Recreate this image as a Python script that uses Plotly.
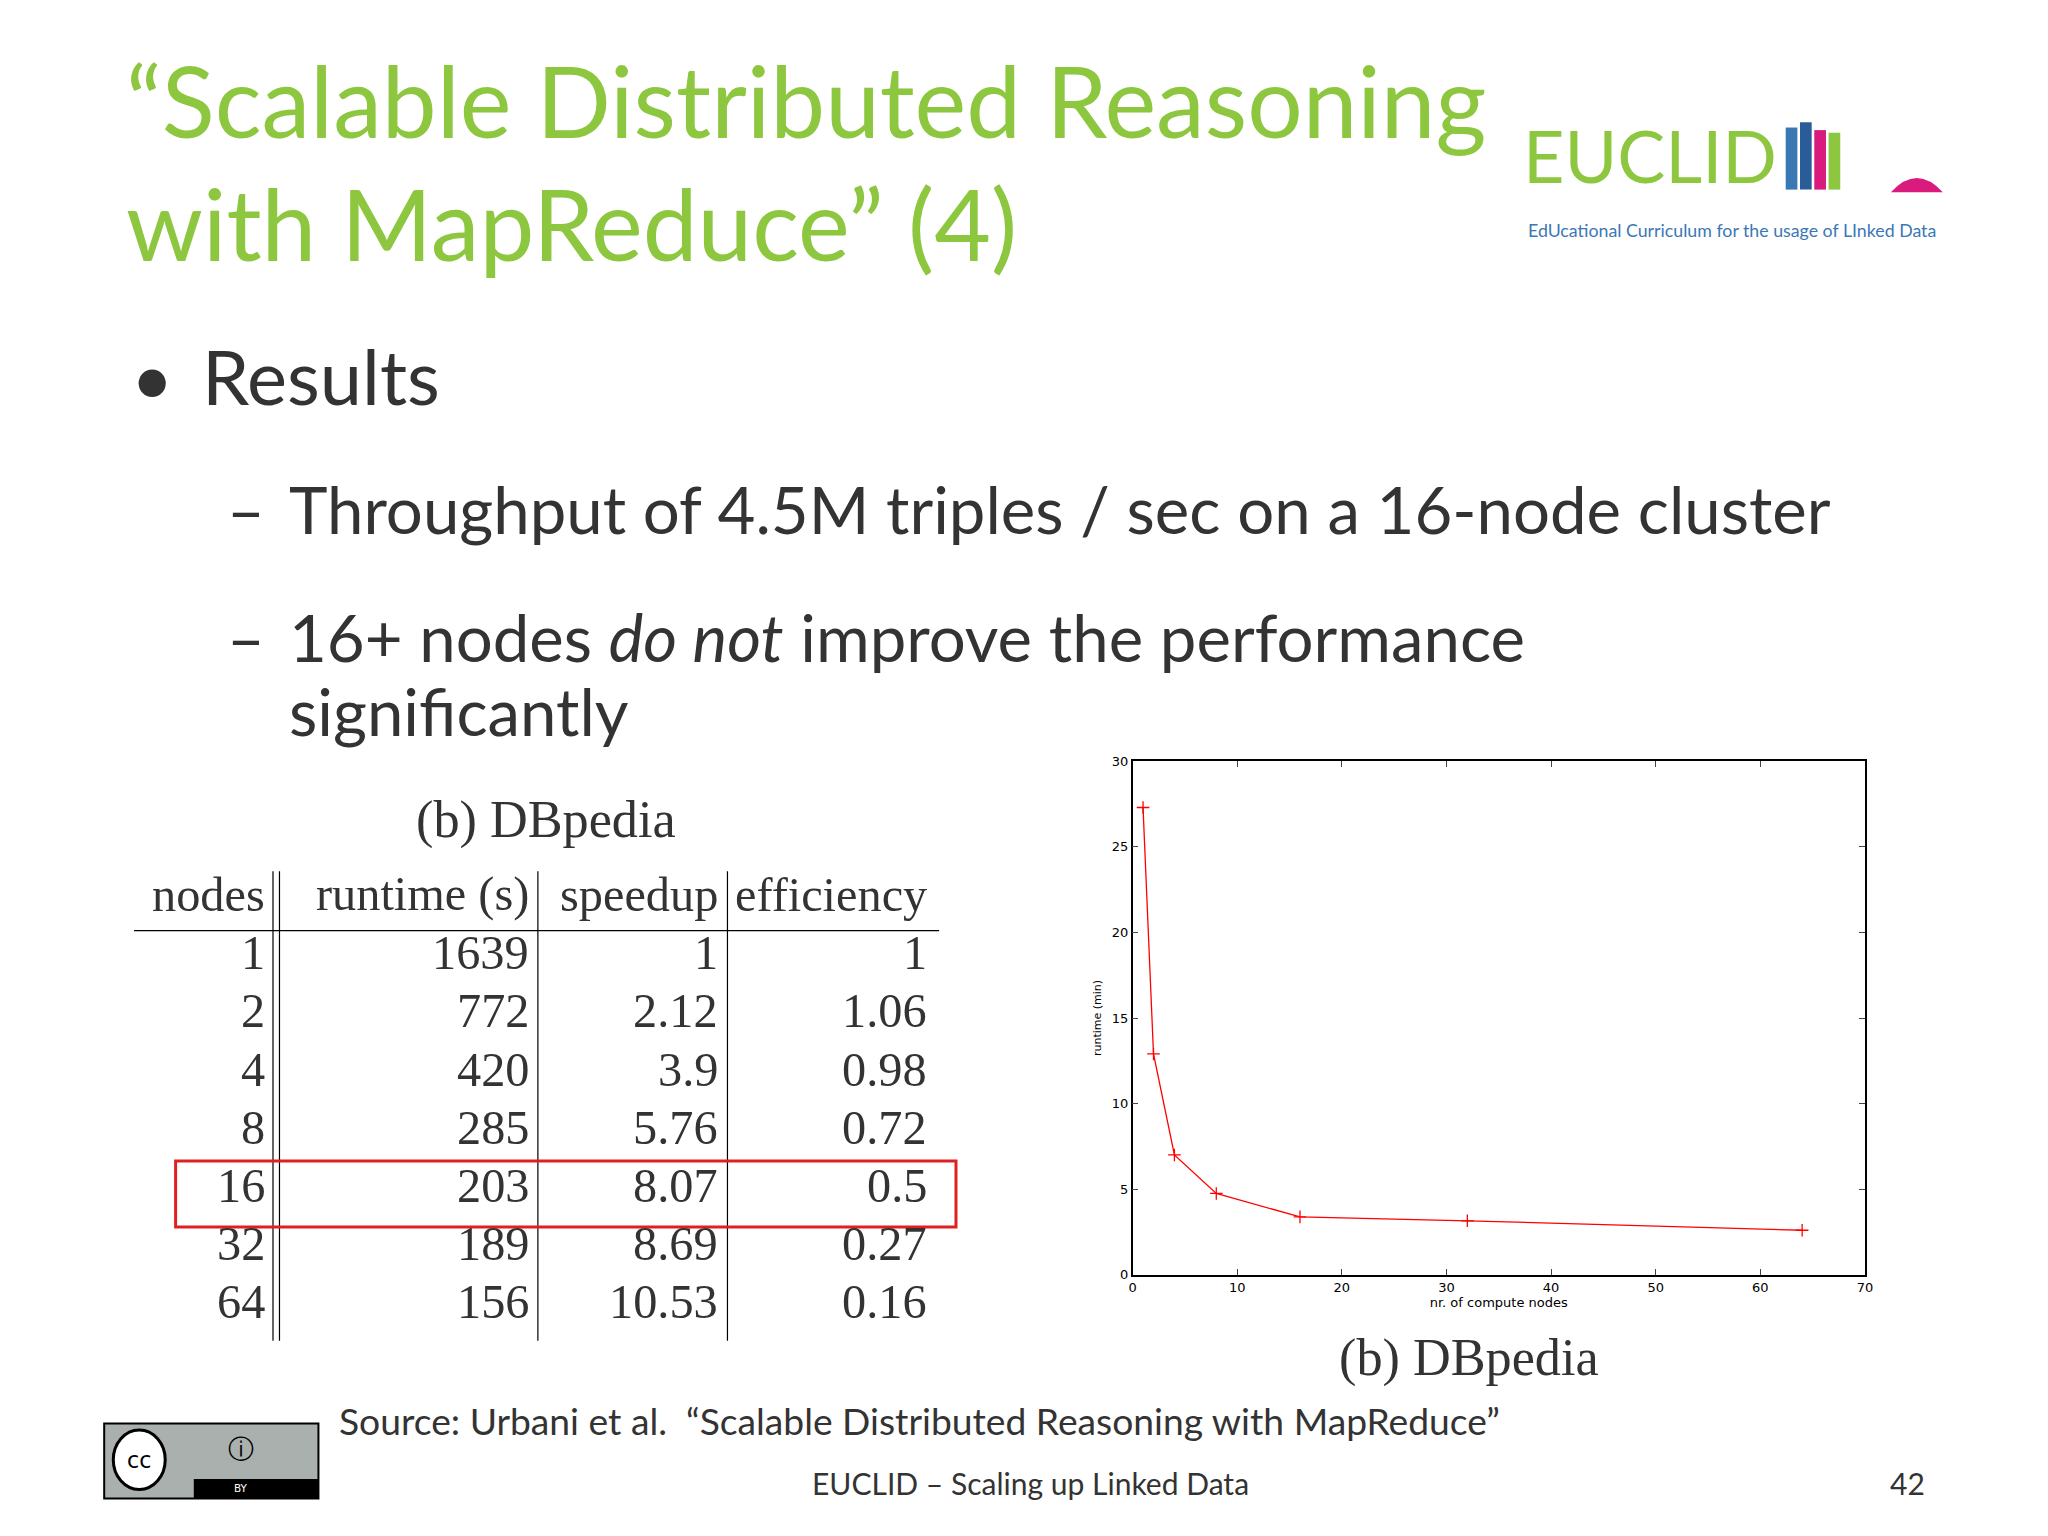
import plotly.graph_objects as go

# values
nodes = [1, 2, 4, 8, 16, 32, 64]
runtime_s = [1639, 772, 420, 285, 203, 189, 156]
speedup = ["1", "2.12", "3.9", "5.76", "8.07", "8.69", "10.53"]
efficiency = ["1", "1.06", "0.98", "0.72", "0.5", "0.27", "0.16"]
runtime_min = [27.3, 12.9, 7.0, 4.75, 3.38, 3.15, 2.6]
header = ["nodes", "runtime (s)", "speedup", "efficiency"]

W, H = 1568.0, 1176.0   # design coordinates (scaled to 2048x1536)
GREEN = "#8dc63f"
TEXT = "#333333"
SERIF = "Liberation Serif"
SANS = "Lato"
K = 2048 / W


def px(x):
    return x / W


def py(y):
    return 1 - y / H


fig = go.Figure()
fig.add_trace(go.Scatter(
    x=nodes, y=runtime_min, mode="lines+markers",
    line=dict(color="red", width=1.3),
    marker=dict(symbol="cross-thin", size=9, line=dict(color="red", width=1.3)),
    showlegend=False,
))

ann = []


def txt(x, y, s, size, color=TEXT, font=SANS, xa="left", ya="middle"):
    ann.append(dict(x=px(x), y=py(y), xref="paper", yref="paper", text=s,
                    showarrow=False, xanchor=xa, yanchor=ya,
                    font=dict(family=font, size=size * K, color=color)))


# title
txt(86, 66, "“Scalable Distributed Reasoning", 75, GREEN)
txt(86, 161, "with MapReduce” (4)", 75, GREEN)
# logo
txt(1162, 108, "EUCLID", 55, GREEN)
txt(1166, 166, "EdUcational Curriculum for the usage of LInked Data", 13.6, "#3a78b5")
# bullets
txt(90, 280, "•", 56, TEXT)
txt(145, 279, "Results", 58, TEXT)
txt(164, 382, "–", 50, TEXT)
txt(212, 382, "Throughput of 4.5M triples / sec on a 16-node cluster", 50, TEXT)
txt(164, 481, "–", 50, TEXT)
txt(212, 481, "16+ nodes <i>do not</i> improve the performance", 50, TEXT)
txt(212, 538, "significantly", 50, TEXT)

# table
col_right = [196, 400, 545, 706]
txt(411, 622, "(b) DBpedia", 40, TEXT, SERIF, xa="center")
for c, h in enumerate(header):
    txt(col_right[c], 680, h, 37, TEXT, SERIF, xa="right")
for r in range(len(nodes)):
    y = 725 + 45 * r
    vals = [str(nodes[r]), str(runtime_s[r]), speedup[r], efficiency[r]]
    for c, v in enumerate(vals):
        txt(col_right[c], y, v, 37, TEXT, SERIF, xa="right")

# chart caption and footer
txt(1122, 1038, "(b) DBpedia", 40, TEXT, SERIF, xa="center")
txt(250, 1087, "Source: Urbani et al.  “Scalable Distributed Reasoning with MapReduce”", 28.5, TEXT)
txt(784, 1135, "EUCLID – Scaling up Linked Data", 23, TEXT, xa="center")
txt(1460, 1135, "42", 23, TEXT, xa="center")
txt(98, 1117, "cc", 17, "black", "DejaVu Sans", xa="center")
txt(176, 1109, "ⓘ", 20, "black", "DejaVu Sans", xa="center")
txt(176, 1139, "BY", 8, "white", "DejaVu Sans", xa="center")

shapes = []


def line(x0, y0, x1, y1, color="black", w=1.2):
    shapes.append(dict(type="line", xref="paper", yref="paper", x0=px(x0), y0=py(y0),
                       x1=px(x1), y1=py(y1), line=dict(color=color, width=w)))


line(94, 708, 714, 708)
for x in [201, 206, 405, 551]:
    line(x, 662, x, 1025)
shapes.append(dict(type="rect", xref="paper", yref="paper", x0=px(126), x1=px(727),
                   y0=py(937), y1=py(886), line=dict(color="#e02020", width=3)))
# books in logo
for i, (c, h) in enumerate([("#3a78b5", 48), ("#2a5c9a", 52), ("#d81b7d", 46), (GREEN, 44)]):
    shapes.append(dict(type="rect", xref="paper", yref="paper", x0=px(1366 + i * 11),
                       x1=px(1375 + i * 11), y0=py(135), y1=py(135 - h), line_width=0, fillcolor=c))
shapes.append(dict(type="path", xref="paper", yref="paper",
                   path=f"M {px(1447)},{py(137)} Q {px(1467)},{py(115)} {px(1487)},{py(137)} Z",
                   fillcolor="#d81b7d", line_width=0))
# cc badge
shapes.append(dict(type="rect", xref="paper", yref="paper", x0=px(71), x1=px(236),
                   y0=py(1147), y1=py(1089), fillcolor="#aab0ae", line=dict(color="black", width=2)))
shapes.append(dict(type="rect", xref="paper", yref="paper", x0=px(140), x1=px(236),
                   y0=py(1147), y1=py(1132), fillcolor="black", line_width=0))
shapes.append(dict(type="circle", xref="paper", yref="paper", x0=px(78), x1=px(118),
                   y0=py(1140), y1=py(1094), fillcolor="white", line=dict(color="black", width=3)))

fig.update_layout(
    width=2048, height=1536, margin=dict(l=0, r=0, t=0, b=0),
    paper_bgcolor="white", plot_bgcolor="white",
    annotations=ann, shapes=shapes,
    xaxis=dict(domain=[px(863), px(1427)], range=[0, 70], dtick=10, ticks="inside",
               mirror="ticks", showline=True, linecolor="black", linewidth=1.5,
               showgrid=False, zeroline=False, ticklen=6,
               tickfont=dict(family="DejaVu Sans", size=13, color="black"),
               title=dict(text="nr. of compute nodes", standoff=0,
                          font=dict(family="DejaVu Sans", size=13, color="black"))),
    yaxis=dict(domain=[py(974), py(577)], range=[0, 30], dtick=5, ticks="inside",
               mirror="ticks", showline=True, linecolor="black", linewidth=1.5,
               showgrid=False, zeroline=False, ticklen=6,
               tickfont=dict(family="DejaVu Sans", size=13, color="black"),
               title=dict(text="runtime (min)", standoff=8,
                          font=dict(family="DejaVu Sans", size=11, color="black"))),
)

fig.write_html("out.html")
